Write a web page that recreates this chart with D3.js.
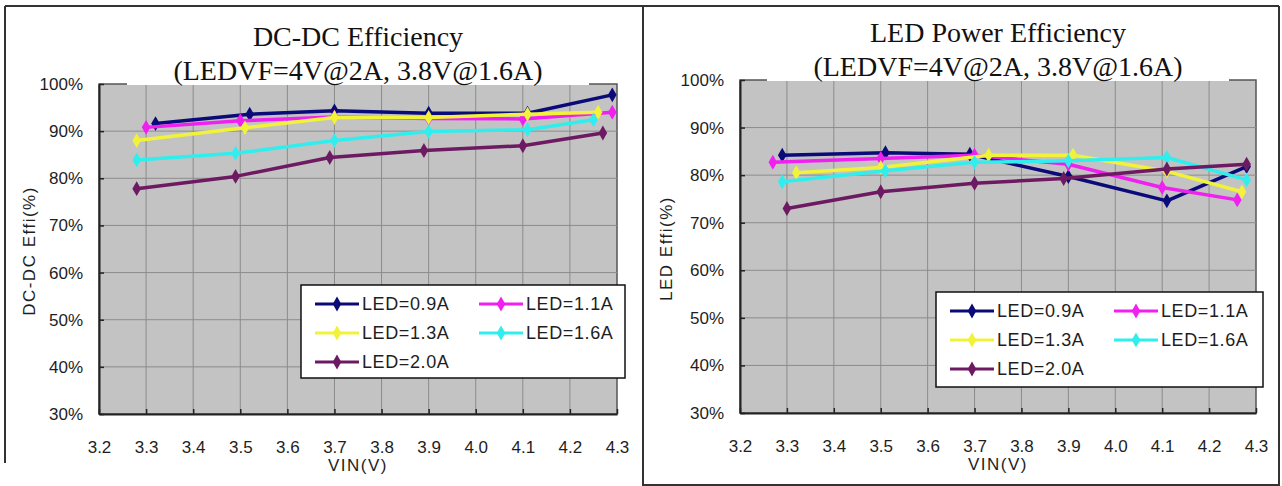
<!DOCTYPE html>
<html>
<head>
<meta charset="utf-8">
<script src="https://cdn.jsdelivr.net/npm/d3@7"></script>
<style>
  html, body { margin: 0; padding: 0; background: #ffffff; }
  svg { display: block; }
  .tick text { font-family: "Liberation Sans", Arial, sans-serif; font-size: 17px; fill: #1e1e1e; }
</style>
</head>
<body>
<svg id="chart" width="1282" height="486"></svg>
<script>
// ---------- data ----------
const seriesNames = ["LED=0.9A", "LED=1.1A", "LED=1.3A", "LED=1.6A", "LED=2.0A"];
const seriesColors = ["#0a0a78", "#f020f0", "#f2f23a", "#30eeee", "#6e1a62"];
const xTickValues = [3.2, 3.3, 3.4, 3.5, 3.6, 3.7, 3.8, 3.9, 4.0, 4.1, 4.2, 4.3];
const yTickValues = [30, 40, 50, 60, 70, 80, 90, 100];

// DC-DC Efficiency (%), VIN measured per series
const dcdcVin09 = [3.32, 3.52, 3.70, 3.90, 4.11, 4.29];
const dcdcEff09 = [91.6, 93.6, 94.3, 93.8, 93.8, 97.7];
const dcdcVin11 = [3.30, 3.50, 3.70, 3.90, 4.10, 4.29];
const dcdcEff11 = [90.8, 92.2, 93.0, 92.7, 92.6, 94.0];
const dcdcVin13 = [3.28, 3.51, 3.70, 3.90, 4.11, 4.26];
const dcdcEff13 = [88.0, 90.7, 92.9, 92.9, 93.6, 94.0];
const dcdcVin16 = [3.28, 3.49, 3.70, 3.90, 4.11, 4.25];
const dcdcEff16 = [83.9, 85.3, 88.0, 89.9, 90.3, 92.4];
const dcdcVin20 = [3.28, 3.49, 3.69, 3.89, 4.10, 4.27];
const dcdcEff20 = [77.8, 80.4, 84.4, 85.9, 86.9, 89.6];

// LED Power Efficiency (%)
const ledVin09 = [3.29, 3.51, 3.69, 3.90, 4.11, 4.28];
const ledEff09 = [84.2, 84.7, 84.4, 79.7, 74.6, 81.8];
const ledVin11 = [3.27, 3.50, 3.70, 3.90, 4.10, 4.26];
const ledEff11 = [82.7, 83.5, 84.2, 82.3, 77.4, 74.8];
const ledVin13 = [3.32, 3.50, 3.73, 3.91, 4.11, 4.27];
const ledEff13 = [80.5, 81.6, 84.2, 84.2, 80.8, 76.5];
const ledVin16 = [3.29, 3.51, 3.70, 3.90, 4.11, 4.28];
const ledEff16 = [78.6, 80.9, 82.7, 83.0, 83.7, 79.0];
const ledVin20 = [3.30, 3.50, 3.70, 3.89, 4.11, 4.28];
const ledEff20 = [73.0, 76.5, 78.3, 79.3, 81.3, 82.3];

const dcdcTitle = ["DC-DC Efficiency", "(LEDVF=4V@2A, 3.8V@1.6A)"];
const ledTitle = ["LED Power Efficiency", "(LEDVF=4V@2A, 3.8V@1.6A)"];
const dcdcYTitle = "DC-DC Effi(%)";
const ledYTitle = "LED Effi(%)";
const xTitle = "VIN(V)";

// ---------- drawing ----------
const svg = d3.select("#chart");
const SANS = '"Liberation Sans", Arial, sans-serif';
const SERIF = '"Liberation Serif", "Times New Roman", serif';

function zipSeries(vins, effs) {
  return vins.map((v, i) => v.map((x, j) => ({ v: x, e: effs[i][j] })));
}

// outer frame
const frame = svg.append("g").attr("stroke", "#333").attr("stroke-width", 2).attr("fill", "none");
frame.append("line").attr("x1", 5).attr("y1", 6).attr("x2", 1279).attr("y2", 6);
frame.append("line").attr("x1", 5).attr("y1", 6).attr("x2", 5).attr("y2", 463);
frame.append("line").attr("x1", 643).attr("y1", 6).attr("x2", 643).attr("y2", 486);
frame.append("line").attr("x1", 1279).attr("y1", 6).attr("x2", 1279).attr("y2", 486);
frame.append("line").attr("x1", 643).attr("y1", 485).attr("x2", 1279).attr("y2", 485);

function drawPanel(p) {
  const g = svg.append("g");
  const x = d3.scaleLinear().domain([3.2, 4.3]).range([p.x0, p.x1]);
  const y = d3.scaleLinear().domain([30, 100]).range([p.y0, p.y1]);

  // plot background
  g.append("rect").attr("x", p.x0).attr("y", p.y1)
    .attr("width", p.x1 - p.x0).attr("height", p.y0 - p.y1)
    .attr("fill", "#c3c3c3").attr("stroke", "#555").attr("stroke-width", 1.5);

  // gridlines
  g.append("g").selectAll("line").data(xTickValues.slice(1, -1)).join("line")
    .attr("x1", d => x(d)).attr("x2", d => x(d))
    .attr("y1", p.y1).attr("y2", p.y0)
    .attr("stroke", "#8c8c8c").attr("stroke-width", 1);
  g.append("g").selectAll("line").data(yTickValues.slice(1, -1)).join("line")
    .attr("x1", p.x0).attr("x2", p.x1)
    .attr("y1", d => y(d)).attr("y2", d => y(d))
    .attr("stroke", "#8c8c8c").attr("stroke-width", 1);

  // axes
  const xAxis = d3.axisBottom(x).tickValues(xTickValues).tickFormat(d3.format(".1f"))
    .tickSizeInner(-5).tickSizeOuter(0).tickPadding(27);
  const gx = g.append("g").attr("transform", `translate(0,${p.y0})`).call(xAxis);
  gx.select(".domain").attr("stroke", "#222").attr("stroke-width", 2);
  gx.selectAll(".tick line").attr("stroke", "#222").attr("stroke-width", 1.5);

  const yAxis = d3.axisLeft(y).tickValues(yTickValues).tickFormat(d => d + "%")
    .tickSizeInner(-5).tickSizeOuter(0).tickPadding(16);
  const gy = g.append("g").attr("transform", `translate(${p.x0},0)`).call(yAxis);
  gy.select(".domain").attr("stroke", "#222").attr("stroke-width", 2);
  gy.selectAll(".tick line").attr("stroke", "#222").attr("stroke-width", 1.5);

  // series
  const line = d3.line().x(d => x(d.v)).y(d => y(d.e));
  const diamond = d3.symbol().type(d3.symbolDiamond).size(64);
  p.series.forEach((pts, i) => {
    const sg = g.append("g");
    sg.append("path").datum(pts).attr("d", line)
      .attr("fill", "none").attr("stroke", seriesColors[i]).attr("stroke-width", 3.5)
      .attr("stroke-linejoin", "round");
    sg.selectAll("path.m").data(pts).join("path").attr("class", "m")
      .attr("d", diamond)
      .attr("transform", d => `translate(${x(d.v)},${y(d.e)})`)
      .attr("fill", seriesColors[i]);
  });

  // title with white backing box
  const cx = (p.x0 + p.x1) / 2;
  g.append("rect").attr("x", cx - 231).attr("y", 12).attr("width", 462).attr("height", p.y1 + 1 - 12)
    .attr("fill", "#ffffff");
  g.selectAll("text.title").data(p.title).join("text").attr("class", "title")
    .attr("x", cx).attr("y", (d, i) => i === 0 ? p.y1 - 38 : p.y1 - 4)
    .attr("text-anchor", "middle")
    .style("font-family", SERIF).style("font-size", "28px").attr("fill", "#111")
    .text(d => d);

  // axis titles
  g.append("text")
    .attr("transform", `translate(${p.yTitleX},${(p.y0 + p.y1) / 2 + 2}) rotate(-90)`)
    .attr("text-anchor", "middle").attr("dy", "0.35em")
    .style("font-family", SANS).style("font-size", "17px").style("letter-spacing", "1.5px")
    .attr("fill", "#1e1e1e").text(p.yTitle);
  g.append("text")
    .attr("x", cx).attr("y", p.y0 + 57)
    .attr("text-anchor", "middle")
    .style("font-family", SANS).style("font-size", "17px").style("letter-spacing", "1.5px")
    .attr("fill", "#1e1e1e").text(xTitle);

  // legend
  const L = p.legend;
  const lg = g.append("g").attr("transform", `translate(${L.x},${L.y})`);
  lg.append("rect").attr("width", L.w).attr("height", L.h)
    .attr("fill", "#ffffff").attr("stroke", "#111").attr("stroke-width", 1.5);
  const colX = [14, 178];
  const rowY = [19, 48, 77];
  seriesNames.forEach((name, i) => {
    const cxi = colX[i % 2], cyi = rowY[Math.floor(i / 2)];
    lg.append("line").attr("x1", cxi).attr("x2", cxi + 44).attr("y1", cyi).attr("y2", cyi)
      .attr("stroke", seriesColors[i]).attr("stroke-width", 3);
    lg.append("path").attr("d", diamond).attr("transform", `translate(${cxi + 22},${cyi})`)
      .attr("fill", seriesColors[i]);
    lg.append("text").attr("x", cxi + 47).attr("y", cyi).attr("dy", "0.36em")
      .style("font-family", SANS).style("font-size", "18px").style("letter-spacing", "0.6px")
      .attr("fill", "#1e1e1e").text(name);
  });
}

drawPanel({
  x0: 99, x1: 617, y0: 414, y1: 84,
  title: dcdcTitle, yTitle: dcdcYTitle, yTitleX: 29,
  series: zipSeries([dcdcVin09, dcdcVin11, dcdcVin13, dcdcVin16, dcdcVin20],
                    [dcdcEff09, dcdcEff11, dcdcEff13, dcdcEff16, dcdcEff20]),
  legend: { x: 301, y: 285, w: 324, h: 93 }
});

drawPanel({
  x0: 740, x1: 1256, y0: 413, y1: 80,
  title: ledTitle, yTitle: ledYTitle, yTitleX: 666,
  series: zipSeries([ledVin09, ledVin11, ledVin13, ledVin16, ledVin20],
                    [ledEff09, ledEff11, ledEff13, ledEff16, ledEff20]),
  legend: { x: 936, y: 292, w: 327, h: 95 }
});
</script>
</body>
</html>
